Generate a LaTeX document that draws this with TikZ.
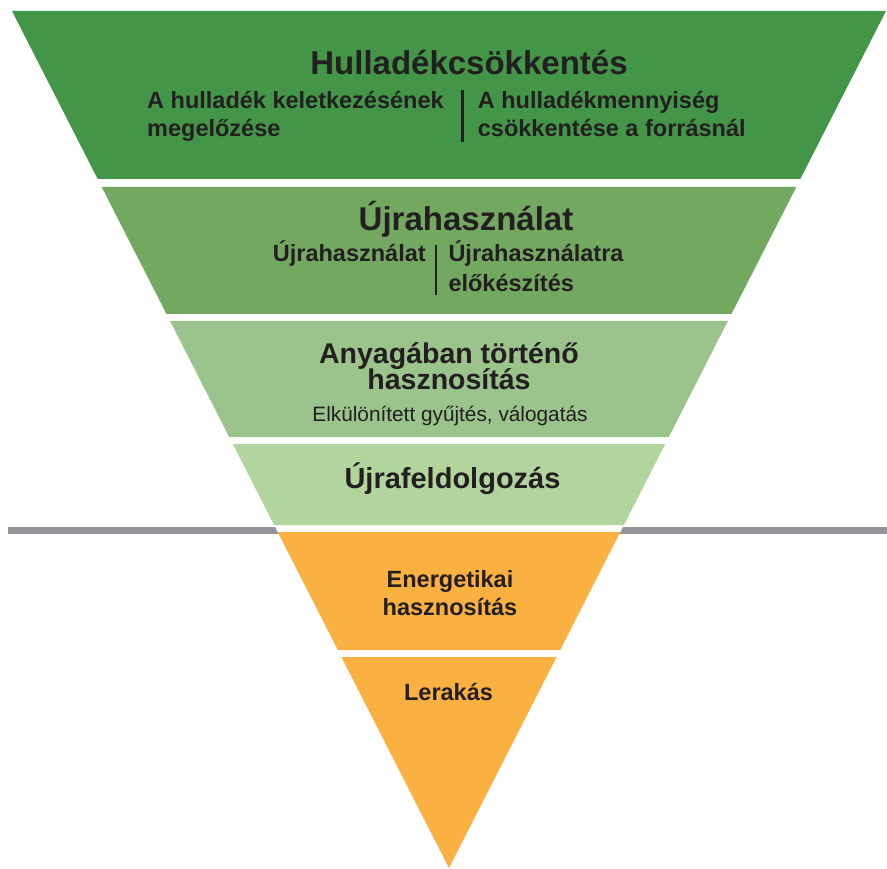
\documentclass[tikz,border=0pt]{standalone}
\usepackage{fontspec}
\setmainfont{Liberation Sans}

\definecolor{reduceColor}{RGB}{67,150,72}
\definecolor{reuseColor}{RGB}{114,168,95}
\definecolor{recoverColor}{RGB}{155,195,140}
\definecolor{recycleColor}{RGB}{178,213,158}
\definecolor{energyColor}{RGB}{251,176,66}
\definecolor{lineColor}{RGB}{147,149,152}
\definecolor{textColor}{RGB}{35,31,32}

\begin{document}
\begin{tikzpicture}[x=1pt,y=-1pt,
  txt/.style={inner sep=0pt,text=textColor,font=\fontsize{#1}{#1}\selectfont\bfseries},
  plaintxt/.style={inner sep=0pt,text=textColor,font=\fontsize{#1}{#1}\selectfont},
  divider/.style={draw=textColor,line width=2.5pt}]
  \useasboundingbox (0,0) rectangle (887,869);
  % Separator line behind the pyramid
  \draw[line width=6.5pt,lineColor] (8,530.7) -- (887,530.7);
  \fill[white] (12,11) -- (886,11) -- (449,868) -- cycle;
  % Bands
  \fill[reduceColor] (12,11) -- (886,11) -- (800.3,179) -- (97.7,179) -- cycle;
  \fill[reuseColor] (101.7,187) -- (796.3,187) -- (731.5,314) -- (166.5,314) -- cycle;
  \fill[recoverColor] (170.1,321) -- (727.9,321) -- (668.8,437) -- (229.2,437) -- cycle;
  \fill[recycleColor] (232.8,444) -- (665.2,444) -- (623.9,525) -- (274.1,525) -- cycle;
  \fill[energyColor] (277.7,532) -- (620.3,532) -- (560.2,650) -- (337.8,650) -- cycle;
  \fill[energyColor] (341.4,657) -- (556.6,657) -- (449,868) -- cycle;
  % Band 1
  \node[txt=33,anchor=base] (reduce) at (469,74.3) {Hulladékcsökkentés};
  \node[txt=23.5,anchor=base west] (preventA) at (147,108.7) {A hulladék keletkezésének};
  \node[txt=23.5,anchor=base west] (preventB) at (147,136.3) {megelőzése};
  \node[txt=23.5,anchor=base west] (sourceA) at (477.7,108.7) {A hulladékmennyiség};
  \node[txt=23.5,anchor=base west] (sourceB) at (477.7,136.3) {csökkentése a forrásnál};
  \coordinate (reduceDivTop) at (462.7,90);
  \coordinate (reduceDivBot) at (462.7,142);
  \draw[divider] (reduceDivTop) -- (reduceDivBot);
  % Band 2
  \node[txt=33,anchor=base] (reuse) at (466,230.7) {Újrahasználat};
  \node[txt=23.5,anchor=base west] (reuseSub) at (272.7,261.7) {Újrahasználat};
  \node[txt=23.5,anchor=base west] (prepA) at (448.3,261.7) {Újrahasználatra};
  \node[txt=23.5,anchor=base west] (prepB) at (448.3,291.7) {előkészítés};
  \coordinate (reuseDivTop) at (436,245);
  \coordinate (reuseDivBot) at (436,295);
  \draw[divider] (reuseDivTop) -- (reuseDivBot);
  % Band 3
  \node[txt=28.5,anchor=base] (recoverA) at (449,363.3) {Anyagában történő};
  \node[txt=28.5,anchor=base] (recoverB) at (449,389.3) {hasznosítás};
  \node[plaintxt=20.8,anchor=base] (collect) at (450,421.7) {Elkülönített gyűjtés, válogatás};
  % Band 4
  \node[txt=29,anchor=base] (recycle) at (452.5,488.3) {Újrafeldolgozás};
  % Band 5
  \node[txt=23.5,anchor=base] (energyA) at (450,587.5) {Energetikai};
  \node[txt=23.5,anchor=base] (energyB) at (450,615) {hasznosítás};
  % Band 6
  \node[txt=23.5,anchor=base] (landfill) at (448.5,700.7) {Lerakás};
\end{tikzpicture}
\end{document}
